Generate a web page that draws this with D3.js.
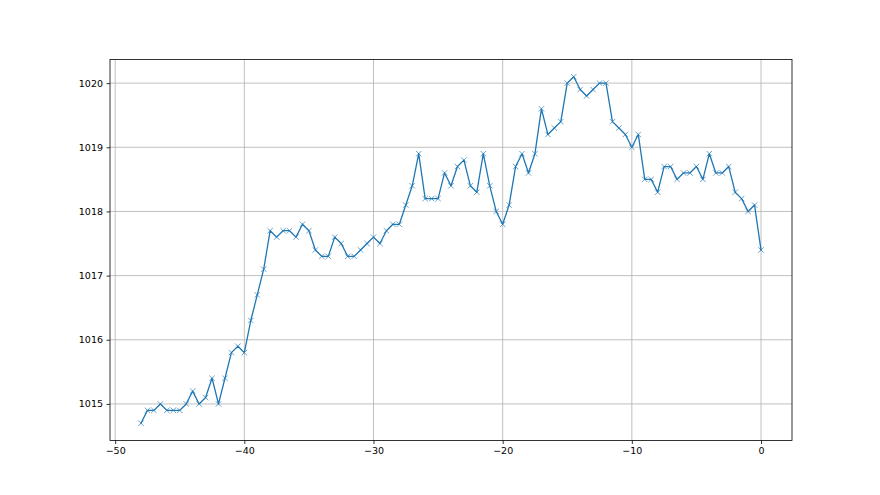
<!DOCTYPE html>
<html>
<head>
<meta charset="utf-8">
<script src="https://cdn.jsdelivr.net/npm/d3@7"></script>
<style>
  html, body { margin: 0; padding: 0; background: #fff; }
  svg { display: block; }
  text { font-family: "DejaVu Sans", sans-serif; }
</style>
</head>
<body>
<svg id="chart" width="880" height="495"></svg>
<script>
const xValues = [-48, -47.5, -47, -46.5, -46, -45.5, -45, -44.5, -44, -43.5, -43, -42.5, -42, -41.5, -41, -40.5, -40,
  -39.5, -39, -38.5, -38, -37.5, -37, -36.5, -36, -35.5, -35, -34.5, -34, -33.5, -33, -32.5, -32, -31.5, -31, -30.5, -30,
  -29.5, -29, -28.5, -28, -27.5, -27, -26.5, -26, -25.5, -25, -24.5, -24, -23.5, -23, -22.5, -22, -21.5, -21, -20.5, -20,
  -19.5, -19, -18.5, -18, -17.5, -17, -16.5, -16, -15.5, -15, -14.5, -14, -13.5, -13, -12.5, -12, -11.5, -11, -10.5, -10,
  -9.5, -9, -8.5, -8, -7.5, -7, -6.5, -6, -5.5, -5, -4.5, -4, -3.5, -3, -2.5, -2, -1.5, -1, -0.5, 0];
const pressure = [1014.7, 1014.9, 1014.9, 1015.0, 1014.9, 1014.9, 1014.9, 1015.0, 1015.2, 1015.0, 1015.1, 1015.4, 1015.0, 1015.4, 1015.8, 1015.9, 1015.8,
  1016.3, 1016.7, 1017.1, 1017.7, 1017.6, 1017.7, 1017.7, 1017.6, 1017.8, 1017.7, 1017.4, 1017.3, 1017.3, 1017.6, 1017.5, 1017.3, 1017.3, 1017.4, 1017.5, 1017.6,
  1017.5, 1017.7, 1017.8, 1017.8, 1018.1, 1018.4, 1018.9, 1018.2, 1018.2, 1018.2, 1018.6, 1018.4, 1018.7, 1018.8, 1018.4, 1018.3, 1018.9, 1018.4, 1018.0, 1017.8,
  1018.1, 1018.7, 1018.9, 1018.6, 1018.9, 1019.6, 1019.2, 1019.3, 1019.4, 1020.0, 1020.1, 1019.9, 1019.8, 1019.9, 1020.0, 1020.0, 1019.4, 1019.3, 1019.2, 1019.0,
  1019.2, 1018.5, 1018.5, 1018.3, 1018.7, 1018.7, 1018.5, 1018.6, 1018.6, 1018.7, 1018.5, 1018.9, 1018.6, 1018.6, 1018.7, 1018.3, 1018.2, 1018.0, 1018.1, 1017.4];
const xTicks = [-50, -40, -30, -20, -10, 0];
const yTicks = [1015, 1016, 1017, 1018, 1019, 1020];

const svg = d3.select("#chart");
const padL = 110, padR = 792, padT = 59.4, padB = 440.5;

const xMin = d3.min(xValues), xMax = d3.max(xValues);
const xPad = (xMax - xMin) * 0.05;
const yMin = d3.min(pressure), yMax = d3.max(pressure);
const yPad = (yMax - yMin) * 0.05;

const x = d3.scaleLinear().domain([xMin - xPad, xMax + xPad]).range([padL, padR]);
const y = d3.scaleLinear().domain([yMin - yPad, yMax + yPad]).range([padB, padT]);

const fmt = d => String(d).replace("-", "\u2212");

// grid
const g = svg.append("g");
g.selectAll(".vg").data(xTicks).enter().append("line")
  .attr("x1", d => x(d)).attr("x2", d => x(d)).attr("y1", padT).attr("y2", padB)
  .attr("stroke", "#b0b0b0").attr("stroke-width", 0.8);
g.selectAll(".hg").data(yTicks).enter().append("line")
  .attr("y1", d => y(d)).attr("y2", d => y(d)).attr("x1", padL).attr("x2", padR)
  .attr("stroke", "#b0b0b0").attr("stroke-width", 0.8);

// axes
const xAxis = d3.axisBottom(x).tickValues(xTicks).tickFormat(fmt).tickSize(3.5).tickPadding(3.5);
const yAxis = d3.axisLeft(y).tickValues(yTicks).tickFormat(d3.format("d")).tickSize(3.5).tickPadding(3.5);

const gx = svg.append("g").attr("transform", `translate(0,${padB})`).call(xAxis);
const gy = svg.append("g").attr("transform", `translate(${padL},0)`).call(yAxis);
[gx, gy].forEach(a => {
  a.select(".domain").remove();
  a.selectAll(".tick line").attr("stroke", "#000").attr("stroke-width", 0.8);
  a.selectAll(".tick text").attr("fill", "#000").style("font-size", "9.5px").style("font-family", "DejaVu Sans");
});

// line
const line = d3.line().x((d, i) => x(xValues[i])).y(d => y(d));
svg.append("path").datum(pressure).attr("d", line)
  .attr("fill", "none").attr("stroke", "#1f77b4").attr("stroke-width", 1.3)
  .attr("stroke-linejoin", "round").attr("stroke-linecap", "square");

// markers
const m = 2.7;
const mk = svg.append("g");
pressure.forEach((v, i) => {
  const cx = x(xValues[i]), cy = y(v);
  mk.append("path")
    .attr("d", `M${cx - m},${cy - m}L${cx + m},${cy + m}M${cx - m},${cy + m}L${cx + m},${cy - m}`)
    .attr("stroke", "#1f77b4").attr("stroke-width", 0.8).attr("stroke-opacity", 0.85).attr("fill", "none");
});

// frame
svg.append("rect").attr("x", padL).attr("y", padT).attr("width", padR - padL).attr("height", padB - padT)
  .attr("fill", "none").attr("stroke", "#000").attr("stroke-width", 0.8);
</script>
</body>
</html>
